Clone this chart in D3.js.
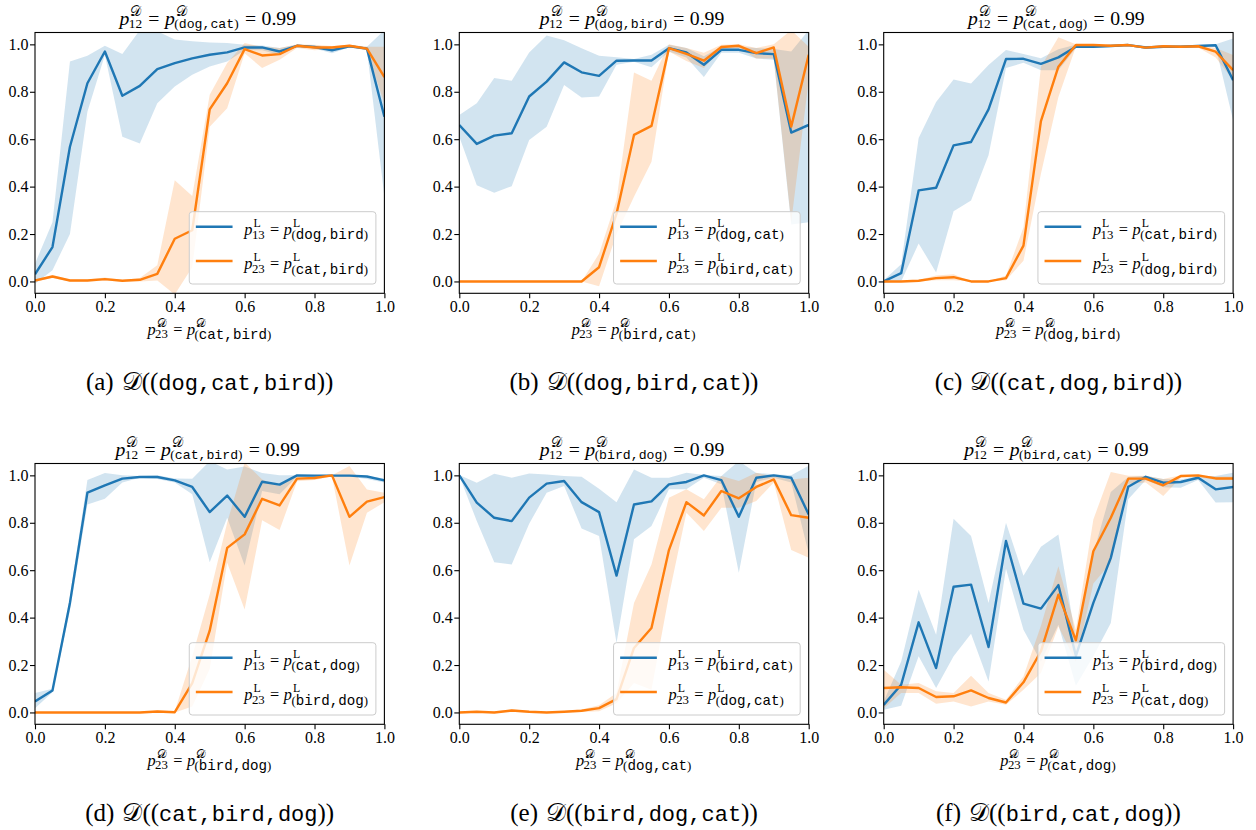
<!DOCTYPE html>
<html>
<head>
<meta charset="utf-8">
<script src="https://cdn.jsdelivr.net/npm/d3@7"></script>
<style>body{margin:0;background:#fff;}</style>
</head>
<body>
<div id="chart"></div>
<script>
// x grid shared by every panel
var xVals = [0.0, 0.05, 0.1, 0.15, 0.2, 0.25, 0.3, 0.35, 0.4, 0.45, 0.5, 0.55, 0.6, 0.65, 0.7, 0.75, 0.8, 0.85, 0.9, 0.95, 1.0];
var tickVals = [0.0, 0.2, 0.4, 0.6, 0.8, 1.0];

// labels
var letters  = ['a', 'b', 'c', 'd', 'e', 'f'];
var captions = ['dog,cat,bird', 'dog,bird,cat', 'cat,dog,bird', 'cat,bird,dog', 'bird,dog,cat', 'bird,cat,dog'];
var pair12   = ['dog,cat', 'dog,bird', 'cat,dog', 'cat,bird', 'bird,dog', 'bird,cat'];
var pair13   = ['dog,bird', 'dog,cat', 'cat,bird', 'cat,dog', 'bird,cat', 'bird,dog'];
var pair23   = ['cat,bird', 'bird,cat', 'dog,bird', 'bird,dog', 'dog,cat', 'cat,dog'];

// (a)
var blueA    = [0.03, 0.145, 0.568, 0.836, 0.970, 0.783, 0.825, 0.896, 0.921, 0.941, 0.956, 0.966, 0.987, 0.987, 0.970, 0.994, 0.989, 0.975, 0.992, 0.982, 0.695];
var blueALo  = [-0.01, 0.047, 0.20, 0.716, 0.955, 0.61, 0.582, 0.752, 0.822, 0.872, 0.907, 0.928, 0.975, 0.975, 0.955, 0.990, 0.983, 0.962, 0.988, 0.975, 0.357];
var blueAHi  = [0.075, 0.25, 0.928, 0.952, 0.994, 0.959, 1.06, 1.055, 1.02, 1.013, 1.008, 1.006, 0.998, 0.995, 0.985, 0.998, 0.995, 0.99, 0.997, 0.99, 1.06];
var orangeA   = [0.004, 0.021, 0.004, 0.004, 0.01, 0.003, 0.007, 0.032, 0.18, 0.216, 0.726, 0.836, 0.98, 0.953, 0.959, 0.994, 0.987, 0.987, 0.994, 0.982, 0.862];
var orangeALo = [0.0, 0.015, 0.0, 0.0, 0.003, 0.0, 0.0, 0.004, -0.055, 0.06, 0.653, 0.73, 0.963, 0.9, 0.935, 0.985, 0.975, 0.98, 0.988, 0.975, 0.75];
var orangeAHi = [0.008, 0.027, 0.008, 0.008, 0.017, 0.006, 0.015, 0.068, 0.427, 0.36, 0.787, 0.921, 1.006, 0.99, 0.985, 1.0, 0.998, 0.993, 0.998, 0.99, 0.99];

// (b)
var blueB    = [0.66, 0.58, 0.615, 0.625, 0.78, 0.843, 0.924, 0.882, 0.867, 0.931, 0.932, 0.932, 0.984, 0.966, 0.914, 0.977, 0.977, 0.963, 0.959, 0.628, 0.66];
var blueBLo  = [0.61, 0.406, 0.374, 0.402, 0.597, 0.653, 0.829, 0.776, 0.78, 0.914, 0.927, 0.903, 0.97, 0.945, 0.862, 0.965, 0.965, 0.94, 0.935, 0.24, 0.25];
var blueBHi  = [0.702, 0.752, 0.858, 0.846, 0.966, 1.037, 1.017, 0.984, 0.952, 0.946, 0.938, 0.956, 0.998, 0.985, 0.95, 0.99, 0.99, 0.985, 0.98, 0.97, 1.06];
var orangeB   = [0, 0, 0, 0, 0, 0, 0, 0, 0.06, 0.286, 0.618, 0.656, 0.984, 0.96, 0.931, 0.989, 0.994, 0.963, 0.987, 0.653, 0.956];
var orangeBLo = [0, 0, 0, 0, 0, 0, 0, 0, -0.02, 0.2, 0.357, 0.505, 0.97, 0.93, 0.9, 0.98, 0.985, 0.94, 0.94, 0.25, 0.85];
var orangeBHi = [0, 0, 0, 0, 0, 0, 0, 0, 0.117, 0.343, 0.881, 0.846, 1.0, 0.985, 0.965, 0.998, 1.0, 0.985, 1.0, 1.06, 0.99];

// (c)
var blueC    = [0.0, 0.035, 0.384, 0.395, 0.574, 0.588, 0.726, 0.938, 0.939, 0.918, 0.945, 0.99, 0.99, 0.993, 0.997, 0.987, 0.99, 0.99, 0.993, 0.996, 0.849];
var blueCLo  = [-0.005, 0.0, 0.16, 0.038, 0.296, 0.341, 0.532, 0.9, 0.922, 0.891, 0.891, 0.985, 0.985, 0.988, 0.993, 0.98, 0.985, 0.985, 0.988, 0.99, 0.68];
var blueCHi  = [0.005, 0.073, 0.605, 0.757, 0.852, 0.835, 0.913, 0.976, 0.959, 0.941, 0.979, 0.998, 0.995, 0.998, 1.0, 0.993, 0.995, 0.995, 0.998, 1.0, 1.025];
var orangeC   = [0, 0, 0.003, 0.014, 0.018, 0, 0, 0.014, 0.151, 0.676, 0.906, 0.997, 0.997, 0.994, 0.997, 0.986, 0.992, 0.99, 0.992, 0.969, 0.891];
var orangeCLo = [0, 0, 0, 0.005, 0.005, 0, 0, 0.005, 0.087, 0.454, 0.778, 0.99, 0.99, 0.99, 0.992, 0.98, 0.987, 0.985, 0.987, 0.945, 0.85];
var orangeCHi = [0, 0, 0.006, 0.025, 0.03, 0, 0, 0.025, 0.228, 0.906, 1.03, 1.0, 1.0, 0.998, 1.0, 0.99, 0.996, 0.995, 0.997, 0.985, 0.955];

// (d)
var blueD    = [0.046, 0.093, 0.462, 0.927, 0.958, 0.986, 0.993, 0.993, 0.979, 0.951, 0.845, 0.915, 0.825, 0.973, 0.961, 1.0, 0.999, 0.999, 0.999, 0.995, 0.979];
var blueDLo  = [0.018, 0.085, 0.43, 0.877, 0.901, 0.97, 0.99, 0.985, 0.97, 0.92, 0.634, 0.821, 0.62, 0.934, 0.92, 0.995, 0.995, 0.995, 0.995, 0.985, 0.97];
var blueDHi  = [0.082, 0.10, 0.49, 0.98, 1.01, 1.0, 0.997, 1.0, 0.987, 0.986, 1.06, 1.025, 1.037, 1.01, 1.0, 1.0, 1.0, 1.0, 1.0, 0.997, 0.987];
var orangeD   = [0, 0, 0, 0, 0, 0, 0, 0.004, 0.001, 0.124, 0.345, 0.694, 0.751, 0.901, 0.873, 0.986, 0.989, 1.0, 0.825, 0.889, 0.908];
var orangeDLo = [0, 0, 0, 0, 0, 0, 0, 0.0, 0.0, 0.025, 0.183, 0.631, 0.434, 0.811, 0.769, 0.975, 0.98, 0.995, 0.62, 0.842, 0.887];
var orangeDHi = [0, 0, 0, 0, 0, 0, 0, 0.008, 0.005, 0.237, 0.497, 0.8, 1.054, 0.983, 0.955, 1.0, 1.0, 1.0, 1.039, 0.94, 0.927];

// (e)
var blueE    = [1.0, 0.885, 0.821, 0.807, 0.906, 0.965, 0.976, 0.887, 0.845, 0.577, 0.877, 0.89, 0.962, 0.972, 1.0, 0.98, 0.825, 0.99, 1.0, 0.99, 0.835];
var blueELo  = [0.998, 0.807, 0.634, 0.624, 0.796, 0.927, 0.955, 0.776, 0.744, 0.293, 0.73, 0.786, 0.941, 0.941, 0.99, 0.962, 0.589, 0.972, 0.99, 0.97, 0.67];
var blueEHi  = [1.002, 0.969, 1.007, 0.99, 1.008, 1.004, 0.997, 0.994, 0.944, 0.887, 1.025, 0.99, 0.99, 1.011, 1.002, 0.997, 1.06, 1.01, 1.005, 1.0, 1.04];
var orangeE   = [0.0, 0.003, 0.0, 0.008, 0.003, 0.0, 0.003, 0.007, 0.018, 0.056, 0.272, 0.356, 0.685, 0.887, 0.831, 0.934, 0.903, 0.951, 0.983, 0.832, 0.821];
var orangeELo = [0, 0, 0, 0.003, 0, 0, 0, 0.002, 0.005, 0.039, 0.124, 0.096, 0.493, 0.842, 0.765, 0.863, 0.863, 0.892, 0.97, 0.685, 0.652];
var orangeEHi = [0.004, 0.006, 0.004, 0.013, 0.006, 0.004, 0.006, 0.012, 0.03, 0.082, 0.462, 0.624, 0.906, 0.941, 0.899, 0.997, 0.976, 1.011, 0.995, 0.983, 0.99];

// (f)
var blueF    = [0.032, 0.117, 0.38, 0.187, 0.53, 0.539, 0.276, 0.723, 0.459, 0.438, 0.537, 0.239, 0.462, 0.652, 0.952, 0.994, 0.969, 0.972, 0.99, 0.941, 0.951];
var blueFLo  = [0.011, 0.028, 0.237, 0.103, 0.237, 0.332, 0.131, 0.606, 0.349, 0.215, 0.37, 0.113, 0.237, 0.377, 0.899, 0.98, 0.95, 0.948, 0.98, 0.885, 0.887];
var blueFHi  = [0.046, 0.215, 0.518, 0.328, 0.817, 0.744, 0.462, 0.8, 0.577, 0.699, 0.751, 0.307, 0.67, 0.93, 0.993, 0.998, 0.985, 0.983, 0.997, 0.997, 1.011];
var orangeF   = [0.103, 0.106, 0.103, 0.065, 0.068, 0.093, 0.061, 0.042, 0.127, 0.258, 0.497, 0.304, 0.68, 0.821, 0.986, 0.986, 0.958, 0.997, 1.0, 0.987, 0.987];
var orangeFLo = [0.018, 0.082, 0.082, 0.037, 0.046, 0.025, 0.046, 0.032, 0.096, 0.166, 0.363, 0.215, 0.544, 0.631, 0.965, 0.97, 0.913, 0.99, 0.993, 0.98, 0.98];
var orangeFHi = [0.18, 0.117, 0.124, 0.089, 0.082, 0.155, 0.082, 0.054, 0.152, 0.366, 0.617, 0.349, 0.814, 1.014, 0.998, 0.998, 0.985, 1.0, 1.0, 0.995, 0.995];

var panels = [
  {b: blueA, bLo: blueALo, bHi: blueAHi, o: orangeA, oLo: orangeALo, oHi: orangeAHi},
  {b: blueB, bLo: blueBLo, bHi: blueBHi, o: orangeB, oLo: orangeBLo, oHi: orangeBHi},
  {b: blueC, bLo: blueCLo, bHi: blueCHi, o: orangeC, oLo: orangeCLo, oHi: orangeCHi},
  {b: blueD, bLo: blueDLo, bHi: blueDHi, o: orangeD, oLo: orangeDLo, oHi: orangeDHi},
  {b: blueE, bLo: blueELo, bHi: blueEHi, o: orangeE, oLo: orangeELo, oHi: orangeEHi},
  {b: blueF, bLo: blueFLo, bHi: blueFHi, o: orangeF, oLo: orangeFLo, oHi: orangeFHi}
];

// Geometry
var W = 1256, H = 830;
var axW = 349.4, axH = 260.8;
var colX = [35, 459.3, 883.7];
var rowY = [32.5, 463.5];
var blue = '#1f77b4', orange = '#ff7f0e';

var serif = "'Liberation Serif', 'Times New Roman', serif";
var mono  = "'Liberation Mono', 'DejaVu Sans Mono', monospace";
var calD  = '\uD835\uDC9F';

// text sizes: main, super, sub digits, typewriter sub, raise, drop
var titleCfg = {S: 19.7, sup: 13.5, sub: 13.3, tt: 13.2, raise: 8.3, drop: 3.8};
var labelCfg = {S: 16.3, sup: 11.8, sub: 12.8, tt: 14.2, raise: 7.6, drop: 4.6};

var svg = d3.select('#chart').append('svg')
    .attr('width', W)
    .attr('height', H);

// measure pieces, then write one <text> with positioned tspans
function mathText(parent, parts, x, y, anchor) {
  var probe = parent.append('text').attr('visibility', 'hidden');
  var pieces = [];
  var cx = 0;
  function put(p, px, py) {
    probe.style('font-family', p.tt ? mono : serif)
      .style('font-size', p.sz + 'px')
      .style('font-style', p.it ? 'italic' : 'normal')
      .text(p.t);
    var w = probe.node().getComputedTextLength();
    pieces.push({t: p.t, x: px, y: py, sz: p.sz, tt: p.tt, it: p.it});
    return px + w;
  }
  function run(list, px, py) {
    list.forEach(function(p) { px = put(p, px, py); });
    return px;
  }
  parts.forEach(function(p) {
    if (p.gap) { cx += p.gap; }
    else if (p.sup || p.sub) {
      var a = cx, b = cx;
      if (p.sup) a = run(p.sup, cx + 1, -p.raise);
      if (p.sub) b = run(p.sub, cx - 0.5, p.drop);
      cx = Math.max(a, b) + 0.8;
    }
    else { cx = put(p, cx, 0); }
  });
  probe.remove();
  var off = anchor === 'middle' ? -cx / 2 : 0;
  var txt = parent.append('text')
    .attr('transform', 'translate(' + (x + off) + ',' + y + ')')
    .attr('fill', '#000');
  pieces.forEach(function(p) {
    txt.append('tspan')
      .attr('x', p.x).attr('y', p.y)
      .style('font-family', p.tt ? mono : serif)
      .style('font-size', p.sz + 'px')
      .style('font-style', p.it ? 'italic' : 'normal')
      .text(p.t);
  });
  return cx;
}

function eqParts(c, sym, idx, pair, tail) {
  var gap = 0.28 * c.S;
  var parts = [
    {t: 'p', it: true, sz: c.S},
    {sup: [{t: sym, sz: c.sup}], sub: [{t: idx, sz: c.sub}], raise: c.raise, drop: c.drop - 0.8},
    {gap: gap}, {t: '=', sz: c.S}, {gap: gap},
    {t: 'p', it: true, sz: c.S},
    {sup: [{t: sym, sz: c.sup}],
     sub: [{t: '(', sz: c.sub}, {t: pair, tt: true, sz: c.tt}, {t: ')', sz: c.sub}],
     raise: c.raise, drop: c.drop}
  ];
  if (tail) parts = parts.concat([{gap: gap}, {t: '=', sz: c.S}, {gap: gap}, {t: tail, sz: c.S}]);
  return parts;
}

panels.forEach(function(d, i) {
  var col = i % 3, row = Math.floor(i / 3);
  var left = colX[col], top = rowY[row];

  var x = d3.scaleLinear().domain([0, 1]).range([0, axW]);
  var y = d3.scaleLinear().domain([-0.05, 1.05]).range([axH, 0]);

  var g = svg.append('g').attr('transform', 'translate(' + left + ',' + top + ')');

  g.append('clipPath').attr('id', 'clip' + i)
    .append('rect').attr('width', axW).attr('height', axH);

  var plot = g.append('g').attr('clip-path', 'url(#clip' + i + ')');

  var band = function(lo, hi) {
    return d3.area()
      .x(function(v, k) { return x(xVals[k]); })
      .y0(function(v, k) { return y(lo[k]); })
      .y1(function(v, k) { return y(hi[k]); })(xVals);
  };
  var line = function(vals) {
    return d3.line()
      .x(function(v, k) { return x(xVals[k]); })
      .y(function(v) { return y(v); })(vals);
  };

  plot.append('path').attr('d', band(d.bLo, d.bHi)).attr('fill', blue).attr('fill-opacity', 0.2);
  plot.append('path').attr('d', band(d.oLo, d.oHi)).attr('fill', orange).attr('fill-opacity', 0.2);
  plot.append('path').attr('d', line(d.b)).attr('fill', 'none').attr('stroke', blue).attr('stroke-width', 2.4).attr('stroke-linejoin', 'round');
  plot.append('path').attr('d', line(d.o)).attr('fill', 'none').attr('stroke', orange).attr('stroke-width', 2.4).attr('stroke-linejoin', 'round');

  // Axes
  var xAxis = g.append('g').attr('transform', 'translate(0,' + axH + ')')
    .call(d3.axisBottom(x).tickValues(tickVals).tickFormat(d3.format('.1f')).tickSize(5).tickSizeOuter(0).tickPadding(2.5));
  var yAxis = g.append('g')
    .call(d3.axisLeft(y).tickValues(tickVals).tickFormat(d3.format('.1f')).tickSize(5).tickSizeOuter(0).tickPadding(1.5));
  [xAxis, yAxis].forEach(function(a) {
    a.attr('font-family', null).attr('font-size', null);
    a.select('.domain').remove();
    a.selectAll('line').attr('stroke', '#000').attr('stroke-width', 1.1);
    a.selectAll('text').style('font-family', serif).style('font-size', '16px').attr('fill', '#000');
  });

  g.append('rect').attr('width', axW).attr('height', axH)
    .attr('fill', 'none').attr('stroke', '#000').attr('stroke-width', 1.1);

  // Title, x label, caption
  mathText(g, eqParts(titleCfg, calD, '12', pair12[i], '0.99'), axW / 2 - 2, -8, 'middle');
  mathText(g, eqParts(labelCfg, calD, '23', pair23[i]), axW / 2, 302, 'middle');
  mathText(g, [{t: '(' + letters[i] + ')', sz: 25}, {gap: 8}, {t: calD, sz: 25}, {t: '((', sz: 25},
               {t: captions[i], tt: true, sz: 22}, {t: '))', sz: 25}],
    axW / 2, 357.5, 'middle');

  // Legend
  var leg = g.append('g');
  var box = leg.append('rect').attr('rx', 3).attr('ry', 3)
    .attr('fill', '#fff').attr('fill-opacity', 0.8)
    .attr('stroke', '#ccc').attr('stroke-width', 1);
  var w1 = mathText(leg, eqParts(labelCfg, 'L', '13', pair13[i]), 55, 23, 'start');
  var w2 = mathText(leg, eqParts(labelCfg, 'L', '23', pair23[i]), 55, 57.3, 'start');
  leg.append('line').attr('x1', 6.6).attr('x2', 43.3).attr('y1', 15).attr('y2', 15)
    .attr('stroke', blue).attr('stroke-width', 2.4);
  leg.append('line').attr('x1', 6.6).attr('x2', 43.3).attr('y1', 49.3).attr('y2', 49.3)
    .attr('stroke', orange).attr('stroke-width', 2.4);
  var lw = 55 + Math.max(w1, w2) + 7, lh = 72.3;
  box.attr('width', lw).attr('height', lh);
  leg.attr('transform', 'translate(' + (axW - 8.5 - lw) + ',' + (axH - 9.3 - lh) + ')');
});
</script>
</body>
</html>
